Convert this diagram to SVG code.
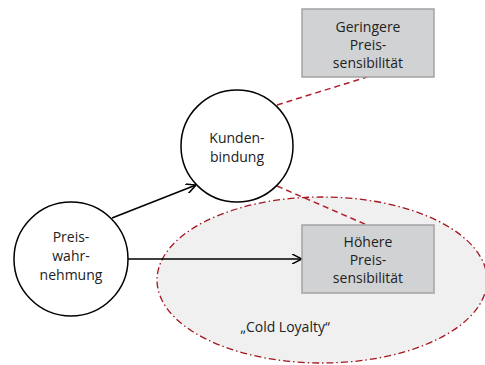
<svg xmlns="http://www.w3.org/2000/svg" width="485" height="365" viewBox="0 0 485 365">
<style>
text{font-family:"Open Sans","Noto Sans",sans-serif;font-size:14px;fill:#222;text-anchor:middle}
.box{fill:#d1d2d4;stroke:#a3a3a3;stroke-width:1.5}
.circ{fill:#fff;stroke:#000;stroke-width:1.5}
.arr{stroke:#000;stroke-width:1.5;fill:none;marker-end:url(#ah)}
.dash{stroke:#b0202c;stroke-width:1.5;stroke-dasharray:6,4;fill:none}
</style>
<defs>
<marker id="ah" viewBox="0 0 10 10" refX="10" refY="5" markerWidth="10" markerHeight="10" markerUnits="userSpaceOnUse" orient="auto">
<path d="M0,0 L10,5 L0,10" fill="none" stroke="#000" stroke-width="1.5"/>
</marker>
</defs>
<g id="cold-loyalty">
<ellipse cx="322" cy="280" rx="165" ry="83" fill="#f0f0f0" stroke="#a3151f" stroke-width="1.3" stroke-dasharray="7,3,1.5,3"/>
<text x="285" y="332">„Cold Loyalty“</text>
</g>
<g id="connectors">
<line class="dash" x1="277" y1="105" x2="367" y2="77"/>
<line class="dash" x1="277" y1="186" x2="367" y2="225"/>
<line class="arr" x1="112" y1="218" x2="196" y2="185"/>
<line class="arr" x1="128" y1="259" x2="302" y2="259"/>
</g>
<g id="geringere">
<rect class="box" x="302" y="9" width="132" height="68"/>
<text x="368" y="32">Geringere</text>
<text x="368" y="50">Preis-</text>
<text x="368" y="68">sensibilität</text>
</g>
<g id="hoehere">
<rect class="box" x="302" y="225" width="132" height="68"/>
<text x="368" y="247">Höhere</text>
<text x="368" y="265">Preis-</text>
<text x="368" y="283">sensibilität</text>
</g>
<g id="kundenbindung">
<circle class="circ" cx="237" cy="146" r="56"/>
<text x="237" y="143">Kunden-</text>
<text x="237" y="162">bindung</text>
</g>
<g id="preiswahrnehmung">
<circle class="circ" cx="71" cy="259" r="57"/>
<text x="71" y="242">Preis-</text>
<text x="71" y="261">wahr-</text>
<text x="71" y="280">nehmung</text>
</g>
</svg>
